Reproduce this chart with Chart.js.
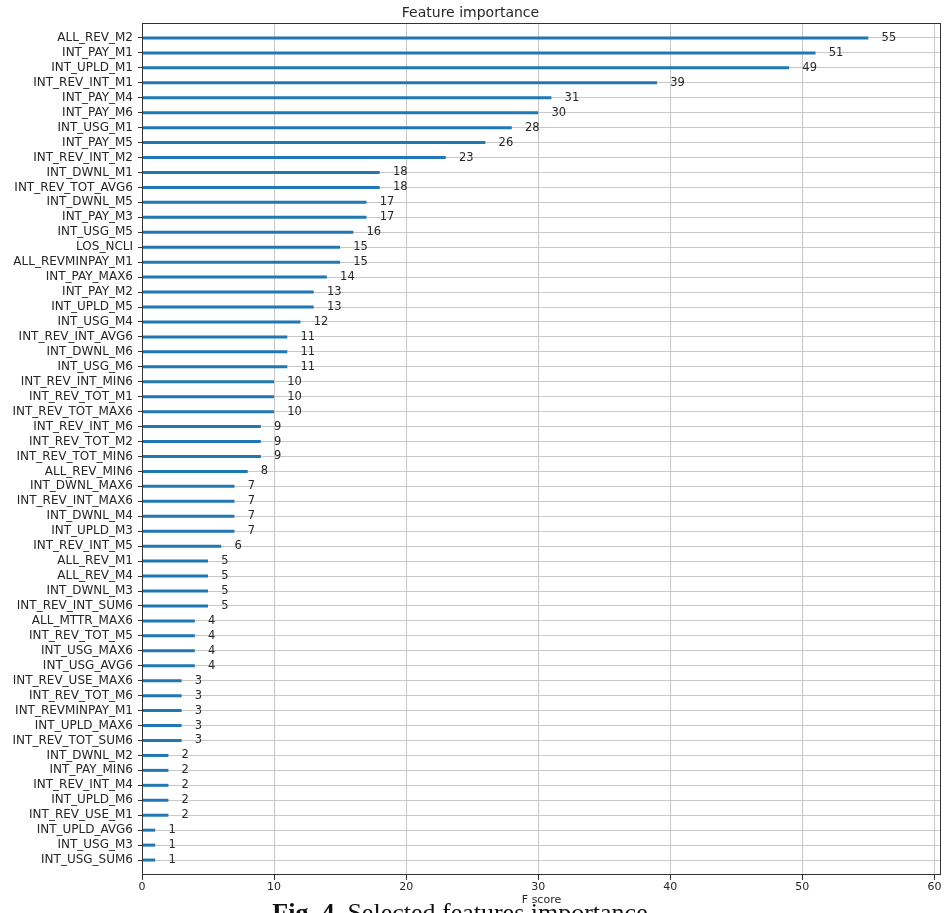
<!DOCTYPE html>
<html>
<head>
<meta charset="utf-8">
<title>Feature importance</title>
<script src="https://cdn.jsdelivr.net/npm/chart.js@4.4.1/dist/chart.umd.min.js"></script>
<style>
  html, body { margin: 0; padding: 0; background: #fff; overflow: hidden; }
  #wrap { position: relative; width: 944px; height: 913px; overflow: hidden; }
  canvas { display: block; }
  #caption {
    position: absolute; left: 0; width: 920px; top: 899px;
    text-align: center; font-family: "Liberation Serif", "DejaVu Serif", serif;
    font-size: 26px; line-height: 28px; color: #111; white-space: nowrap;
  }
  #caption b { font-weight: bold; }
</style>
</head>
<body>
<div id="wrap">
  <canvas id="chart" width="944" height="913"></canvas>
  <div id="caption"><b>Fig. 4.</b> Selected features importance</div>
</div>
<script>
// Features, listed from most to least important (top to bottom)
const features = [
  "ALL_REV_M2", "INT_PAY_M1", "INT_UPLD_M1", "INT_REV_INT_M1", "INT_PAY_M4",
  "INT_PAY_M6", "INT_USG_M1", "INT_PAY_M5", "INT_REV_INT_M2", "INT_DWNL_M1",
  "INT_REV_TOT_AVG6", "INT_DWNL_M5", "INT_PAY_M3", "INT_USG_M5", "LOS_NCLI",
  "ALL_REVMINPAY_M1", "INT_PAY_MAX6", "INT_PAY_M2", "INT_UPLD_M5", "INT_USG_M4",
  "INT_REV_INT_AVG6", "INT_DWNL_M6", "INT_USG_M6", "INT_REV_INT_MIN6", "INT_REV_TOT_M1",
  "INT_REV_TOT_MAX6", "INT_REV_INT_M6", "INT_REV_TOT_M2", "INT_REV_TOT_MIN6", "ALL_REV_MIN6",
  "INT_DWNL_MAX6", "INT_REV_INT_MAX6", "INT_DWNL_M4", "INT_UPLD_M3", "INT_REV_INT_M5",
  "ALL_REV_M1", "ALL_REV_M4", "INT_DWNL_M3", "INT_REV_INT_SUM6", "ALL_MTTR_MAX6",
  "INT_REV_TOT_M5", "INT_USG_MAX6", "INT_USG_AVG6", "INT_REV_USE_MAX6", "INT_REV_TOT_M6",
  "INT_REVMINPAY_M1", "INT_UPLD_MAX6", "INT_REV_TOT_SUM6", "INT_DWNL_M2", "INT_PAY_MIN6",
  "INT_REV_INT_M4", "INT_UPLD_M6", "INT_REV_USE_M1", "INT_UPLD_AVG6", "INT_USG_M3",
  "INT_USG_SUM6"
];

// F score of each feature, same order as above
const fScores = [
  55, 51, 49, 39, 31,
  30, 28, 26, 23, 18,
  18, 17, 17, 16, 15,
  15, 14, 13, 13, 12,
  11, 11, 11, 10, 10,
  10, 9, 9, 9, 8,
  7, 7, 7, 7, 6,
  5, 5, 5, 5, 4,
  4, 4, 4, 3, 3,
  3, 3, 3, 2, 2,
  2, 2, 2, 1, 1,
  1
];

// X axis ticks
const xTicks = [0, 10, 20, 30, 40, 50, 60];

const n = features.length;
const xMax = Math.max(...fScores) * 1.1;

// Row position: top feature gets the highest y value
const rowOf = i => n - 1 - i;
const points = fScores.map((v, i) => ({ x: v, y: rowOf(i) }));

const FONT = "'DejaVu Sans', sans-serif";
const TEXT = '#262626';

// Frame around the plotting area
const framePlugin = {
  id: 'frame',
  afterDraw(chart) {
    const { ctx, chartArea: a } = chart;
    ctx.save();
    ctx.strokeStyle = '#333';
    ctx.lineWidth = 1;
    ctx.strokeRect(Math.round(a.left) + 0.5, Math.round(a.top) + 0.5,
                   Math.round(a.right - a.left) - 1, Math.round(a.bottom - a.top) - 1);
    ctx.restore();
  }
};

// Score printed one unit to the right of each bar
const valueLabels = {
  id: 'valueLabels',
  afterDatasetsDraw(chart) {
    const { ctx, scales: { x, y } } = chart;
    ctx.save();
    ctx.font = '11.5px ' + FONT;
    ctx.fillStyle = TEXT;
    ctx.textAlign = 'left';
    ctx.textBaseline = 'middle';
    fScores.forEach((v, i) => {
      ctx.fillText(String(v), x.getPixelForValue(v + 1), y.getPixelForValue(rowOf(i)));
    });
    ctx.restore();
  }
};

new Chart(document.getElementById('chart'), {
  type: 'bar',
  data: {
    datasets: [{
      data: points,
      backgroundColor: '#1f77b4',
      borderWidth: 0,
      categoryPercentage: 1,
      barPercentage: 0.2
    }]
  },
  options: {
    indexAxis: 'y',
    responsive: false,
    animation: false,
    devicePixelRatio: 1,
    layout: { padding: { left: 0, right: 3, top: 0, bottom: 6 } },
    plugins: {
      legend: { display: false },
      tooltip: { enabled: false },
      title: {
        display: true,
        text: 'Feature importance',
        color: TEXT,
        font: { family: FONT, size: 14, weight: 'normal' },
        padding: { top: 5, bottom: 1.2 }
      }
    },
    scales: {
      x: {
        type: 'linear',
        min: 0,
        max: xMax,
        afterBuildTicks(s) { s.ticks = xTicks.map(v => ({ value: v })); },
        afterFit(s) { s.height = 32; },
        ticks: { color: TEXT, font: { family: FONT, size: 11 }, padding: 1, includeBounds: false },
        grid: { color: '#c8c8c8', lineWidth: 1, drawTicks: true, tickLength: 5, tickColor: '#333' },
        border: { display: false },
        title: {
          display: true, text: 'F score', color: TEXT,
          font: { family: FONT, size: 11 }, padding: { top: 0, bottom: 0 }
        }
      },
      y: {
        type: 'linear',
        min: -1,
        max: n,
        offset: false,
        afterBuildTicks(s) { s.ticks = features.map((_, i) => ({ value: rowOf(i) })); },
        afterFit(s) { s.width = 142; },
        ticks: {
          autoSkip: false,
          color: TEXT,
          font: { family: FONT, size: 12 },
          padding: 5,
          callback: v => features[n - 1 - v]
        },
        grid: { offset: false, color: '#c8c8c8', lineWidth: 1, drawTicks: true, tickLength: 4, tickColor: '#333' },
        border: { display: false }
      }
    }
  },
  plugins: [framePlugin, valueLabels]
});
</script>
</body>
</html>
